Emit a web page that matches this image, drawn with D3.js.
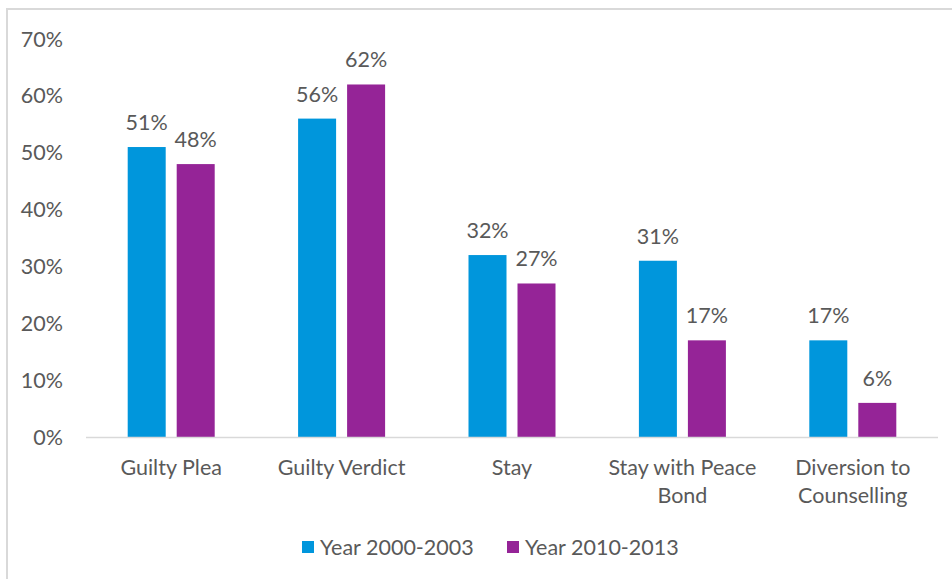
<!DOCTYPE html>
<html>
<head>
<meta charset="utf-8">
<script src="https://cdn.jsdelivr.net/npm/d3@7"></script>
<style>
html,body{margin:0;padding:0;background:#fff;}
svg{display:block;}
text{font-family:Lato,"Open Sans",sans-serif;fill:#595959;}
</style>
</head>
<body>
<svg id="chart" width="952" height="579"></svg>
<script>
const categories = [["Guilty Plea"],["Guilty Verdict"],["Stay"],["Stay with Peace","Bond"],["Diversion to","Counselling"]];
const seriesNames = ["Year 2000-2003","Year 2010-2013"];
const series1 = [51,56,32,31,17];
const series2 = [48,62,27,17,6];
const yTicks = [0,10,20,30,40,50,60,70];
const colors = ["#0096dc","#952497"];

(function(){
const svg = d3.select("#chart");
svg.append("rect").attr("x",7).attr("y",9).attr("width",960).attr("height",600)
  .attr("fill","none").attr("stroke","#d9d9d9").attr("stroke-width",2);

const pLeft = 86, pRight = 938, pTop = 39, pBottom = 437;
const fs = 21.5;
const x0 = d3.scaleBand().domain(d3.range(categories.length)).range([pLeft,pRight]);
const y = d3.scaleLinear().domain([0,70]).range([pBottom,pTop]);

const barW = 38, gap = 11;
const data = categories.map((c,i)=>({i, vals:[series1[i],series2[i]]}));

const g = svg.append("g");
data.forEach(d=>{
  const cx = x0(d.i) + x0.bandwidth()/2;
  d.vals.forEach((v,k)=>{
    const bx = k===0 ? cx - gap/2 - barW : cx + gap/2;
    g.append("rect").attr("x",bx).attr("y",y(v)).attr("width",barW).attr("height",y(0)-y(v)).attr("fill",colors[k]);
    g.append("text").attr("x",bx+barW/2).attr("y",y(v)-17).attr("text-anchor","middle")
      .attr("font-size",fs).text(v+"%");
  });
});

svg.append("line").attr("x1",pLeft).attr("x2",pRight).attr("y1",pBottom+0.5).attr("y2",pBottom+0.5)
  .attr("stroke","#d9d9d9").attr("stroke-width",1.5);

svg.append("g").selectAll("text").data(yTicks).join("text")
  .attr("x",63).attr("y",d=>y(d)).attr("dy","0.35em").attr("text-anchor","end")
  .attr("font-size",fs).text(d=>d+"%");

data.forEach(d=>{
  const cx = x0(d.i) + x0.bandwidth()/2;
  const t = svg.append("text").attr("x",cx).attr("y",475).attr("text-anchor","middle").attr("font-size",fs);
  categories[d.i].forEach((line,j)=>{
    t.append("tspan").attr("x",cx).attr("dy", j===0?0:28).text(line);
  });
});

const legX = [302,507];
seriesNames.forEach((n,k)=>{
  svg.append("rect").attr("x",legX[k]).attr("y",541).attr("width",12).attr("height",12).attr("fill",colors[k]);
  svg.append("text").attr("x",legX[k]+18).attr("y",555).attr("font-size",fs).text(n);
});
})();
</script>
</body>
</html>
